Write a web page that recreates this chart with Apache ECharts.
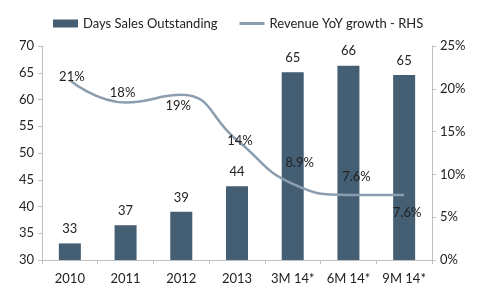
<!DOCTYPE html>
<html>
<head>
<meta charset="utf-8">
<script src="https://cdn.jsdelivr.net/npm/echarts@6/dist/echarts.min.js"></script>
<style>
  html, body { margin: 0; padding: 0; background: #fff; }
  #chart { width: 485px; height: 303px; }
</style>
</head>
<body>
<div id="chart"></div>
<script>
var categories = ['2010', '2011', '2012', '2013', '3M 14*', '6M 14*', '9M 14*'];
var dso = [33.1, 36.5, 39.0, 43.8, 65.1, 66.3, 64.6];
var revenueGrowth = [21.0, 18.4, 19.3, 14.0, 8.9, 7.6, 7.6];
var growthLabels = ['21%', '18%', '19%', '14%', '8.9%', '7.6%', '7.6%'];

(function(){
  var myChart = echarts.init(document.getElementById('chart'));
  var font = 'Lato';
  // label offsets for the growth line, relative to each point
  var labelOffsets = [[2, -3], [-3, -10], [-3, 11], [3, 1], [7, -21], [8, -18], [3, 18]];
  var option = {
    animation: false,
    textStyle: { fontFamily: font },
    legend: {
      top: 12,
      left: 48,
      itemGap: 25,
      itemWidth: 25,
      itemHeight: 8,
      itemGap: 22,
      textStyle: { fontSize: 13, color: '#222', fontFamily: font },
      data: [
        { name: 'Days Sales Outstanding', icon: 'rect' },
        { name: 'Revenue YoY growth - RHS', icon: 'path://M0,0L25,0L25,3L0,3Z' }
      ]
    },
    grid: { left: 42, right: 53, top: 46, bottom: 43 },
    xAxis: {
      type: 'category',
      data: categories,
      axisLine: { lineStyle: { color: '#bfbfbf' } },
      axisTick: { show: true, length: 4, lineStyle: { color: '#bfbfbf' } },
      axisLabel: { interval: 0, color: '#222', fontSize: 13, margin: 12, fontFamily: font }
    },
    yAxis: [
      {
        type: 'value',
        min: 30,
        max: 70,
        interval: 5,
        position: 'left',
        axisLine: { show: true, lineStyle: { color: '#bfbfbf' } },
        axisTick: { show: true, length: 4, lineStyle: { color: '#bfbfbf' } },
        splitLine: { show: false },
        axisLabel: { color: '#222', fontSize: 13, margin: 8, fontFamily: font }
      },
      {
        type: 'value',
        min: 0,
        max: 25,
        interval: 5,
        position: 'right',
        axisLine: { show: true, lineStyle: { color: '#bfbfbf' } },
        axisTick: { show: true, length: 4, lineStyle: { color: '#bfbfbf' } },
        splitLine: { show: false },
        axisLabel: { color: '#222', fontSize: 13, margin: 8, fontFamily: font, formatter: '{value}%' }
      }
    ],
    series: [
      {
        name: 'Days Sales Outstanding',
        type: 'bar',
        barWidth: 22,
        itemStyle: { color: '#445e74' },
        label: {
          show: true,
          position: 'top',
          distance: 8,
          color: '#222',
          fontSize: 13,
          fontFamily: font,
          formatter: function (p) { return Math.round(p.value); }
        },
        data: dso
      },
      {
        name: 'Revenue YoY growth - RHS',
        type: 'line',
        yAxisIndex: 1,
        smooth: 0.5,
        symbol: 'circle',
        symbolSize: 0,
        showSymbol: true,
        lineStyle: { color: '#8c9eae', width: 2.5 },
        itemStyle: { color: '#8c9eae' },
        data: revenueGrowth.map(function (v, i) {
          return {
            value: v,
            label: {
              show: true,
              position: 'inside',
              offset: labelOffsets[i],
              color: '#222',
              fontSize: 13,
              fontFamily: font,
              formatter: growthLabels[i]
            }
          };
        })
      }
    ]
  };
  myChart.setOption(option);
  window.addEventListener('resize', function(){
    myChart.resize();
  });
})();
</script>
</body>
</html>
